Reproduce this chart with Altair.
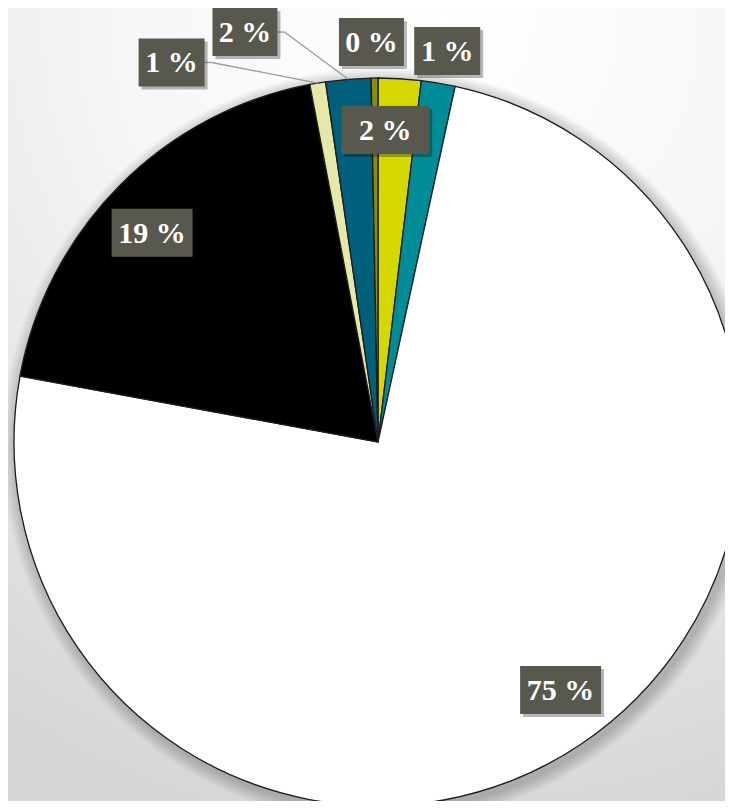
import math
import altair as alt
import pandas as pd

# ---- data ----
categories = ["Yellow", "Teal", "White", "Black", "Pale yellow", "Dark blue", "Olive"]
values = [1.9, 1.5, 74.5, 19.1, 0.7, 2.0, 0.3]
labels = ["2 %", "1 %", "75 %", "19 %", "1 %", "2 %", "0 %"]
colors = ["#d5d800", "#008c97", "#ffffff", "#000000", "#e5e8a9", "#005f7b", "#8c8c0a"]

# ---- layout (not data) ----
W, H = 717, 793
CX, CY, R = 370, 434, 364
label_radius = [312, 397, 308, 308, 432, 431, 400]
label_shift = [-2.1, 0.5, -2.7, -2.0, -19.0, -13.3, -0.4]
box_width = [88, 66, 81, 81, 66, 65, 65]
leader = [0, 0, 0, 0, 1, 1, 0]
BOX_H = 48

df = pd.DataFrame({
    "idx": list(range(len(categories))),
    "category": categories,
    "value": values,
    "label": labels,
    "color": colors,
    "lr": label_radius,
    "shift": label_shift,
    "bw": box_width,
    "leader": leader,
})

bg_gradient = alt.RadialGradient(
    gradient="radial",
    stops=[alt.GradientStop(offset=0, color="#ffffff"),
           alt.GradientStop(offset=0.4, color="#f6f6f6"),
           alt.GradientStop(offset=1, color="#d5d5d5")],
    x1=0.6, y1=0.02, r1=0, x2=0.6, y2=0.02, r2=1.05,
)

one = pd.DataFrame({"a": [0]})
background = alt.Chart(one).mark_rect(fill=bg_gradient).encode(
    x=alt.value(0), x2=alt.value(W), y=alt.value(0), y2=alt.value(H)
)

shadows = []
for k in range(2, 16, 2):
    shadows.append(
        alt.Chart(one).mark_arc(
            theta=0, theta2=2 * math.pi, outerRadius=R + k,
            color="#000000", opacity=0.03,
        ).encode(x=alt.value(CX + 3), y=alt.value(CY + 4))
    )

base = alt.Chart(df)

pie = base.mark_arc(outerRadius=R, stroke="#1c1c1c", strokeWidth=1.3).encode(
    theta=alt.Theta("value:Q", stack=True),
    order=alt.Order("idx:Q"),
    color=alt.Color("color:N", scale=None),
    x=alt.value(CX),
    y=alt.value(CY),
    tooltip=["category:N", "value:Q"],
)

lab = (
    base.transform_window(cum="sum(value)", sort=[alt.SortField("idx")], frame=[None, 0])
    .transform_joinaggregate(total="sum(value)")
    .transform_calculate(m0="(datum.cum - datum.value/2)/datum.total*2*PI")
    .transform_calculate(mid="datum.m0 + datum.shift*PI/180")
    .transform_calculate(
        lx=f"{CX} + datum.lr*sin(datum.mid)",
        ly=f"{CY} - datum.lr*cos(datum.mid)",
        ax=f"{CX} + {R}*sin(datum.m0)",
        ay=f"{CY} - {R}*cos(datum.m0)",
    )
    .transform_calculate(
        bx0="datum.lx - datum.bw/2",
        bx1="datum.lx + datum.bw/2",
        by0=f"datum.ly - {BOX_H/2}",
        by1=f"datum.ly + {BOX_H/2}",
        kx="datum.lx + datum.bw/2 + 7",
    )
)

def px(field):
    return alt.X(f"{field}:Q", scale=None, axis=None)

def py(field):
    return alt.Y(f"{field}:Q", scale=None, axis=None)

lead = lab.transform_filter("datum.leader == 1")
leader1 = lead.mark_rule(color="#9a9a9a", strokeWidth=1.3).encode(
    x=px("bx1"), x2="kx:Q", y=py("ly"), y2="ly:Q"
)
leader2 = lead.mark_rule(color="#9a9a9a", strokeWidth=1.3).encode(
    x=px("kx"), x2="ax:Q", y=py("ly"), y2="ay:Q"
)

box_shadow = lab.transform_calculate(
    sx0="datum.bx0 + 3", sx1="datum.bx1 + 3", sy0="datum.by0 + 3", sy1="datum.by1 + 3"
).mark_rect(color="#000000", opacity=0.28).encode(
    x=px("sx0"), x2="sx1:Q", y=py("sy0"), y2="sy1:Q"
)

boxes = lab.mark_rect(color="#58584f").encode(
    x=px("bx0"), x2="bx1:Q", y=py("by0"), y2="by1:Q"
)

texts = lab.mark_text(
    font="Liberation Serif", fontWeight="bold", fontSize=30, color="#ffffff",
    align="center", baseline="middle", dy=1,
).encode(x=px("lx"), y=py("ly"), text="label:N")

chart = alt.layer(
    background, *shadows, pie, leader1, leader2, box_shadow, boxes, texts
).properties(
    width=W, height=H, padding=0, autosize=alt.AutoSizeParams(type="none")
).configure_view(stroke=None).configure(background="#e6e6e6")

chart.save("out.html", embed_options={"renderer": "svg", "actions": False})
